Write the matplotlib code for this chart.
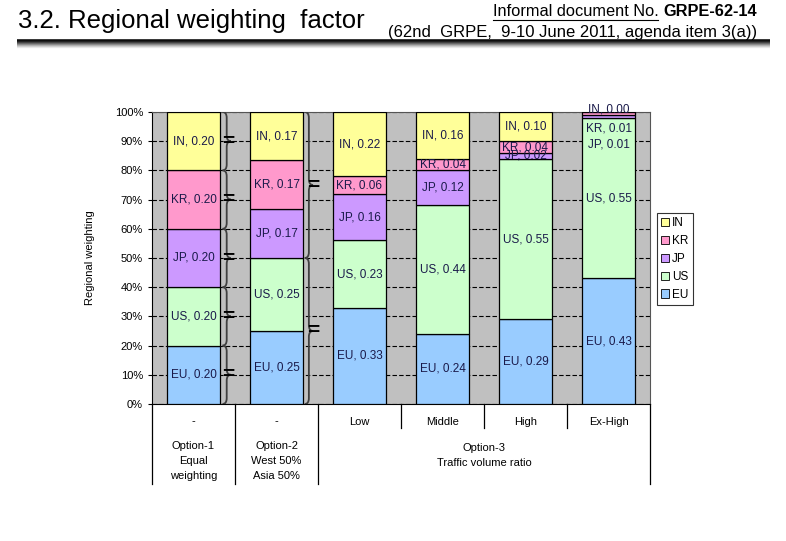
import matplotlib
matplotlib.use("Agg")
import matplotlib.pyplot as plt
import numpy as np
from matplotlib.path import Path
from matplotlib.patches import PathPatch, Patch

plt.rcParams['font.family'] = ['Liberation Sans', 'DejaVu Sans']

# --- data ---
categories = ["-", "-", "Low", "Middle", "High", "Ex-High"]
regions = ["EU", "US", "JP", "KR", "IN"]
EU = [0.20, 0.25, 0.33, 0.24, 0.29, 0.43]
US = [0.20, 0.25, 0.23, 0.44, 0.55, 0.55]
JP = [0.20, 0.167, 0.16, 0.12, 0.02, 0.01]
KR = [0.20, 0.167, 0.06, 0.04, 0.04, 0.01]
IN = [0.20, 0.166, 0.22, 0.16, 0.10, 0.00]
groups = ["Option-1\nEqual\nweighting", "Option-2\nWest 50%\nAsia 50%", "Option-3\nTraffic volume ratio"]

colors = {"EU": "#99ccff", "US": "#ccffcc", "JP": "#cc99ff", "KR": "#ff99cc", "IN": "#ffff99"}
label_color = "#1a1a4a"

fig = plt.figure(figsize=(7.86, 5.41), dpi=100)

# header in pixel coordinates
hax = fig.add_axes([0, 0, 1, 1], zorder=-5)
hax.set_xlim(0, 786)
hax.set_ylim(541, 0)
hax.axis("off")
hax.text(18, 21, "3.2. Regional weighting  factor", fontsize=18.5, va="center", ha="left")
bold = hax.text(757, 12, "GRPE-62-14", fontsize=11.8, va="center", ha="right", fontweight="bold")
fig.canvas.draw()
bb = bold.get_window_extent()
x_bold = hax.transData.inverted().transform((bb.x0, bb.y0))[0]
inf = hax.text(x_bold, 12, "Informal document No. ", fontsize=11.8, va="center", ha="right")
hax.text(757, 32, "(62nd  GRPE,  9-10 June 2011, agenda item 3(a))", fontsize=12, va="center", ha="right")
fig.canvas.draw()
ib = inf.get_window_extent()
ix0 = hax.transData.inverted().transform((ib.x0, ib.y0))[0]
ix1 = hax.transData.inverted().transform((ib.x1, ib.y0))[0]
hax.plot([ix0, ix1 - 5], [20, 20], color="black", lw=0.8)
# rule with shading
shades = [0.0, 0.0, 0.1, 0.25, 0.4, 0.55, 0.7, 0.82, 0.92, 1.0]
for i, s in enumerate(shades):
    hax.plot([17, 770], [40 + i, 40 + i], color=str(s), lw=1.1, solid_capstyle="butt")

# --- main chart ---
left, bottom = 152 / 786, 1 - 404 / 541
width, height = (650 - 152) / 786, (404 - 112) / 541
ax = fig.add_axes([left, bottom, width, height])
ax.set_facecolor("#c0c0c0")

x = np.arange(len(categories))
bw = 0.65
series = {"EU": EU, "US": US, "JP": JP, "KR": KR, "IN": IN}
base = np.zeros(len(categories))
for r in regions:
    vals = np.array(series[r])
    ax.bar(x, vals, bw, bottom=base, color=colors[r], edgecolor="black", linewidth=0.9, zorder=3, label=r)
    for i, v in enumerate(vals):
        yc = base[i] + v / 2
        if categories[i] == "Ex-High" and r == "KR":
            yc = 0.945
        if categories[i] == "Ex-High" and r == "JP":
            yc = 0.887
        if categories[i] == "Ex-High" and r == "IN":
            yc = 1.007
        ax.text(x[i], yc, f"{r}, {v:.2f}", ha="center", va="center", fontsize=8.5,
                color=label_color, zorder=5, clip_on=False)
    base = base + vals

ax.set_xlim(-0.5, len(categories) - 0.5)
ax.set_ylim(0, 1)
ax.set_yticks(np.arange(0, 1.01, 0.1))
ax.set_yticklabels([f"{int(round(v * 100))}%" for v in np.arange(0, 1.01, 0.1)], fontsize=8)
ax.yaxis.grid(True, color="black", linestyle=(0, (4, 2)), linewidth=0.8)
ax.set_axisbelow(True)
ax.tick_params(axis="y", length=3, width=0.8)
ax.set_xticks([])
for side in ["top", "right"]:
    ax.spines[side].set_color("#555555")
    ax.spines[side].set_linewidth(0.8)
ax.set_ylabel("Regional weighting", fontsize=8, labelpad=14)

# x labels and separators
xt = ax.get_xaxis_transform()
for i, c in enumerate(categories):
    ax.text(x[i], -0.06, c, transform=xt, ha="center", va="center", fontsize=8)
for b in [-0.5, 0.5, 1.5, 5.5]:
    ax.plot([b, b], [0, -0.274], transform=xt, color="black", lw=0.9, clip_on=False)
for b in [2.5, 3.5, 4.5]:
    ax.plot([b, b], [0, -0.082], transform=xt, color="black", lw=0.9, clip_on=False)
group_pos = [(0, -0.195), (1, -0.195), (3.5, -0.176)]
for g, (gx, gy) in zip(groups, group_pos):
    ax.text(gx, gy, g, transform=xt, ha="center", va="center", fontsize=8, linespacing=1.65)


def brace(ax, xb, y0, y1, w=0.05, r=0.02):
    ym = (y0 + y1) / 2
    verts = [(xb - w, y0), (xb, y0), (xb, y0 + r),
             (xb, ym - r),
             (xb, ym), (xb + w, ym),
             (xb, ym), (xb, ym + r),
             (xb, y1 - r),
             (xb, y1), (xb - w, y1)]
    codes = [Path.MOVETO, Path.CURVE3, Path.CURVE3,
             Path.LINETO,
             Path.CURVE3, Path.CURVE3,
             Path.CURVE3, Path.CURVE3,
             Path.LINETO,
             Path.CURVE3, Path.CURVE3]
    ax.add_patch(PathPatch(Path(verts, codes), fill=False, edgecolor="#404040", lw=1.3, zorder=4))


for k in range(5):
    brace(ax, 0.40, k * 0.2, (k + 1) * 0.2)
    ax.text(0.42, k * 0.2 + 0.1, "=", ha="center", va="center", fontsize=15, fontweight="bold", zorder=6)
for k in range(2):
    brace(ax, 1.39, k * 0.5, (k + 1) * 0.5)
    ax.text(1.44, k * 0.5 + 0.25, "=", ha="center", va="center", fontsize=15, fontweight="bold", zorder=6)

handles = [Patch(facecolor=colors[r], edgecolor="black", linewidth=0.6) for r in regions[::-1]]
leg = fig.legend(handles, regions[::-1], loc="upper left", bbox_to_anchor=(657 / 786, 1 - 213 / 541),
                 frameon=True, fancybox=False, edgecolor="black", handlelength=0.7,
                 handleheight=0.7, handletextpad=0.25, borderpad=0.35, labelspacing=0.5,
                 borderaxespad=0, prop={"size": 8.5})
leg.get_frame().set_linewidth(0.8)

fig.savefig("out.png", dpi=100)
